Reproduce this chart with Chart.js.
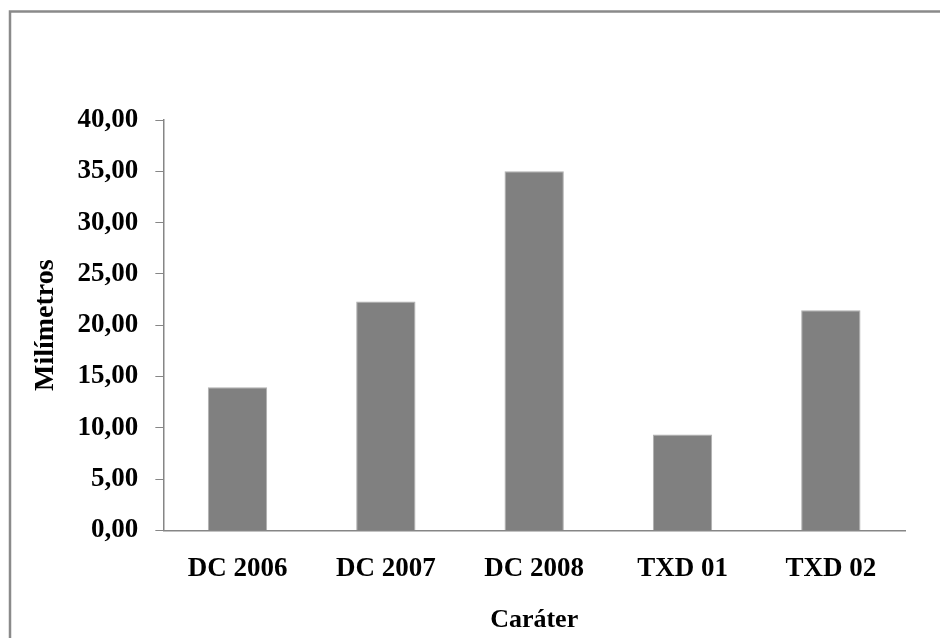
<!DOCTYPE html>
<html>
<head>
<meta charset="utf-8">
<script src="https://cdn.jsdelivr.net/npm/chart.js@4/dist/chart.umd.min.js"></script>
<style>
html,body{margin:0;padding:0;background:#fff;}
canvas{display:block;}
</style>
</head>
<body>
<canvas id="c" width="940" height="638"></canvas>
<script>
const categories = ['DC 2006', 'DC 2007', 'DC 2008', 'TXD 01', 'TXD 02'];
const values = [13.95, 22.3, 35.0, 9.35, 21.45];
const yTickValues = [0, 5, 10, 15, 20, 25, 30, 35, 40];
const yTickLabels = ['0,00', '5,00', '10,00', '15,00', '20,00', '25,00', '30,00', '35,00', '40,00'];
const yTitle = 'Milímetros';
const xTitle = 'Caráter';

const AXIS = '#868686';
const FONT = 'Liberation Serif, "Times New Roman", serif';

const framePlugin = {
  id: 'frame',
  beforeDraw(chart) {
    const ctx = chart.ctx;
    ctx.save();
    ctx.fillStyle = '#ffffff';
    ctx.fillRect(0, 0, chart.width, chart.height);
    ctx.strokeStyle = '#8a8a8a';
    ctx.lineWidth = 2.5;
    ctx.beginPath();
    ctx.moveTo(10, chart.height + 5);
    ctx.lineTo(10, 11.5);
    ctx.lineTo(chart.width + 5, 11.5);
    ctx.stroke();
    ctx.restore();
  }
};

new Chart(document.getElementById('c'), {
  type: 'bar',
  data: {
    labels: categories,
    datasets: [{
      data: values,
      backgroundColor: '#808080',
      borderColor: '#b0b0b0',
      borderWidth: 1,
      categoryPercentage: 1.0,
      barPercentage: 0.4
    }]
  },
  options: {
    responsive: false,
    animation: false,
    devicePixelRatio: 1,
    layout: { padding: { left: 27, right: 35, top: 120, bottom: 0 } },
    plugins: {
      legend: { display: false },
      tooltip: { enabled: false }
    },
    scales: {
      y: {
        min: 0,
        max: 40,
        afterBuildTicks(scale) {
          scale.ticks = yTickValues.map(v => ({ value: v }));
        },
        ticks: {
          padding: 17,
          color: '#000',
          font: { family: FONT, size: 27, weight: 'bold' },
          callback(value) {
            const i = yTickValues.indexOf(value);
            return i >= 0 ? yTickLabels[i] : '';
          }
        },
        grid: {
          display: true,
          drawOnChartArea: false,
          drawTicks: true,
          tickLength: 8,
          color: AXIS,
          lineWidth: 1
        },
        border: { display: true, color: AXIS, width: 1.5 },
        title: {
          display: true,
          text: yTitle,
          color: '#000',
          font: { family: FONT, size: 28, weight: 'bold' },
          padding: { top: 2, bottom: -2 }
        }
      },
      x: {
        ticks: {
          padding: 22,
          color: '#000',
          font: { family: FONT, size: 27, weight: 'bold' }
        },
        grid: { display: false, drawTicks: false },
        border: { display: true, color: AXIS, width: 1.5 },
        title: {
          display: true,
          text: xTitle,
          color: '#000',
          font: { family: FONT, size: 26, weight: 'bold' },
          padding: { top: -2, bottom: 2 }
        }
      }
    }
  },
  plugins: [framePlugin]
});
</script>
</body>
</html>
